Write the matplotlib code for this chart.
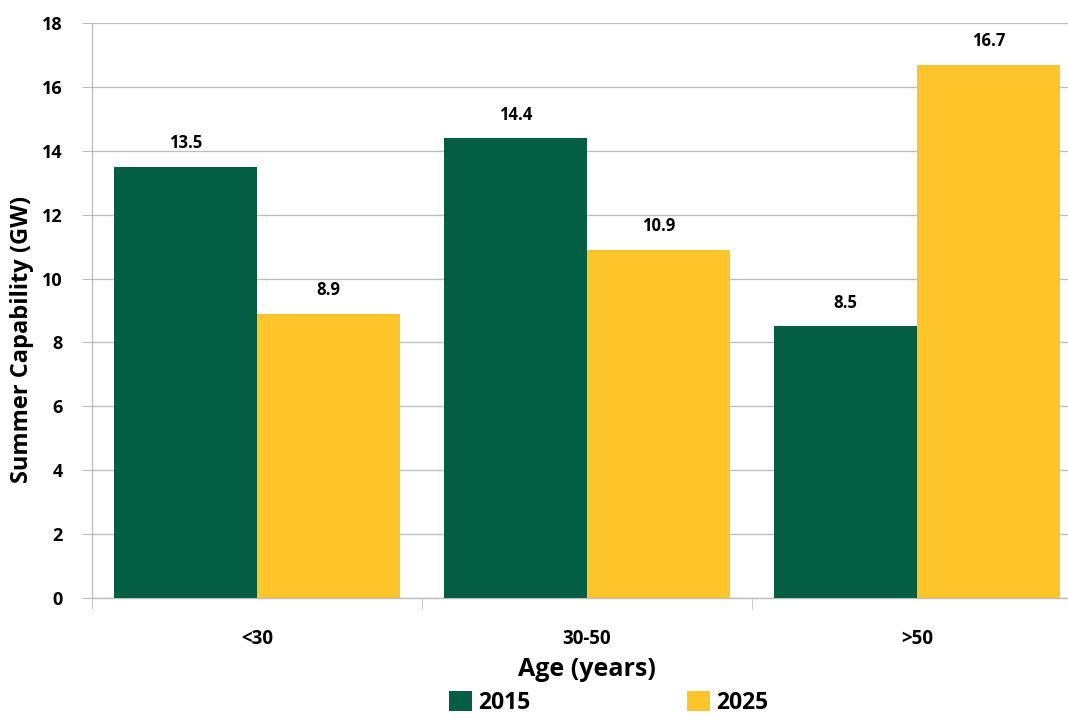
import numpy as np
import matplotlib.pyplot as plt

plt.rcParams['font.family'] = ['Open Sans', 'DejaVu Sans']
plt.rcParams['font.weight'] = 'bold'

age_groups = ["<30", "30-50", ">50"]
series_names = ["2015", "2025"]
cap_2015 = [13.5, 14.4, 8.5]
cap_2025 = [8.9, 10.9, 16.7]
yticks = [0, 2, 4, 6, 8, 10, 12, 14, 16, 18]

green = "#035E43"
yellow = "#FEC52A"
grid_col = "#BEBEBE"

fig = plt.figure(figsize=(10.68, 7.19), dpi=100)
ax = fig.add_axes([92 / 1068, 1 - 598 / 719, 990 / 1068, 575 / 719])

x = np.arange(len(age_groups))
w = 143 / 330
b1 = ax.bar(x - w / 2, cap_2015, w, color=green, label=series_names[0], zorder=3)
b2 = ax.bar(x + w / 2, cap_2025, w, color=yellow, label=series_names[1], zorder=3)

for bars, vals in ((b1, cap_2015), (b2, cap_2025)):
    for r, v in zip(bars, vals):
        ax.text(r.get_x() + r.get_width() / 2, v + 0.45, f"{v:.1f}",
                ha="center", va="bottom", fontsize=12, fontweight="bold")

ax.set_xlim(-0.5, len(age_groups) - 0.5)
ax.set_ylim(0, 18)
ax.set_yticks(yticks)
ax.set_yticklabels([str(t) for t in yticks], fontsize=13, fontweight="bold")
ax.set_xticks(x)
ax.set_xticklabels(age_groups, fontsize=13.5, fontweight="bold")
ax.set_xticks(np.arange(-0.5, len(age_groups)), minor=True)
ax.tick_params(axis="x", which="major", length=0, pad=22)
ax.tick_params(axis="x", which="minor", length=8, color=grid_col, direction="out")
ax.tick_params(axis="y", length=7, color=grid_col, direction="out", pad=14)

ax.grid(axis="y", color=grid_col, linewidth=1, zorder=0)
for s in ("top", "right"):
    ax.spines[s].set_visible(False)
for s in ("left", "bottom"):
    ax.spines[s].set_color(grid_col)
    ax.spines[s].set_linewidth(1)

ax.set_xlabel("Age (years)", fontsize=18, fontweight="bold", labelpad=6)
ax.set_ylabel("Summer Capability (GW)", fontsize=17, fontweight="bold")
ax.yaxis.set_label_coords(-58 / 990, 0.45)

fig.legend(handles=[b1, b2], loc="center", bbox_to_anchor=(0.57, 16 / 719),
           ncol=2, frameon=False, fontsize=16.5, columnspacing=6.8,
           handlelength=1.0, handleheight=1.0, handletextpad=0.3)

fig.savefig("out.png", dpi=100)
